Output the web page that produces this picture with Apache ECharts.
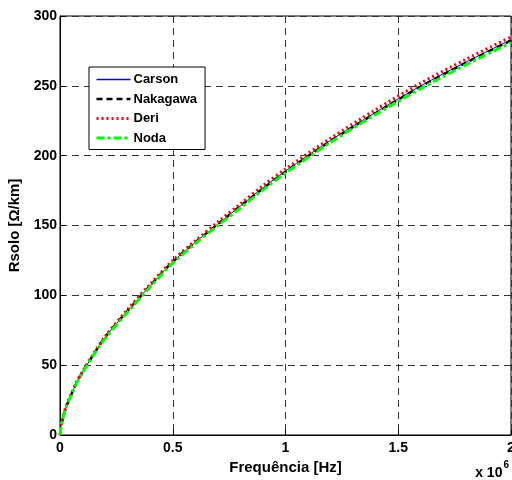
<!DOCTYPE html>
<html>
<head>
<meta charset="utf-8">
<script src="https://cdn.jsdelivr.net/npm/echarts@6/dist/echarts.min.js"></script>
<style>
  html, body { margin: 0; padding: 0; background: #fff; }
  #chart { width: 512px; height: 480px; }
</style>
</head>
<body>
<div id="chart"></div>
<script>
// Frequency samples in Hz
var freq = [0, 5e3, 1e4, 2.5e4, 5e4, 7.5e4, 1e5, 1.5e5, 2e5, 3e5, 4e5, 5e5, 6e5, 7e5, 8e5, 9e5, 1e6, 1.2e6, 1.4e6, 1.6e6, 1.8e6, 2e6];
// Soil resistance (ohm/km) by model
var carson   = [0, 7, 10, 19, 29, 38, 45, 58, 70, 89, 107, 124, 138, 151, 164, 177, 189, 211, 231, 250, 267, 283];
var nakagawa = [0, 7, 10, 19, 29, 38, 45, 58, 70, 89, 107, 124, 138, 151, 164, 176.5, 188.5, 210.5, 230.5, 249.5, 266.5, 282.5];
var deri     = [0, 7, 10, 19.5, 29.5, 38.5, 45.5, 58.5, 70.5, 90, 108, 125, 139, 152.5, 165.5, 178.5, 190.5, 212.5, 233, 252, 269, 285];
var noda     = [0, 7, 10, 19, 28.5, 37.5, 44.5, 57.5, 69, 88, 106, 123, 137, 150, 162.5, 175.5, 187.5, 209.5, 229.5, 248, 265, 281];
var seriesNames = ['Carson', 'Nakagawa', 'Deri', 'Noda'];

function pairs(ys) {
  return freq.map(function (f, i) { return [f, ys[i]]; });
}

var FONT = "'Liberation Sans', Arial, sans-serif";
var chart = echarts.init(document.getElementById('chart'), null, { renderer: 'canvas' });

var gridLine = { show: true, lineStyle: { color: '#333', type: [7, 5], width: 1 } };

// Line styles shared by each curve and its legend sample
var styles = {
  Carson:   { color: '#0000ff', width: 1,   type: 'solid' },
  Nakagawa: { color: '#000000', width: 2.5, type: [6, 4] },
  Deri:     { color: '#ff0000', width: 3,   type: [2, 3] },
  Noda:     { color: '#00ff00', width: 3,   type: [8, 3, 3, 3] }
};
var seriesData = { Carson: carson, Nakagawa: nakagawa, Deri: deri, Noda: noda };

chart.setOption({
  animation: false,
  backgroundColor: '#fff',
  grid: {
    left: 60, right: 1, top: 16, bottom: 45,
    outerBoundsMode: 'none', containLabel: false,
    show: true, borderColor: '#000', borderWidth: 1, backgroundColor: 'transparent'
  },
  legend: {
    data: seriesNames.map(function (n) {
      return { name: n, lineStyle: { width: Math.max(styles[n].width, 1.3), type: styles[n].type, color: styles[n].color } };
    }),
    orient: 'vertical',
    left: 89, top: 67,
    itemWidth: 34, itemHeight: 13, itemGap: 6.5,
    backgroundColor: '#fff',
    borderColor: '#000', borderWidth: 1,
    padding: [6, 8, 5, 6],
    borderRadius: 0,
    itemStyle: { opacity: 0 },
    textStyle: { fontFamily: FONT, fontWeight: 'bold', fontSize: 13, color: '#000', padding: [0, 0, 0, -2] }
  },
  xAxis: {
    type: 'value', min: 0, max: 2e6, interval: 5e5,
    name: 'Frequência [Hz]', nameLocation: 'middle', nameGap: 22,
    nameTextStyle: { fontFamily: FONT, fontWeight: 'bold', fontSize: 15, color: '#000' },
    axisLine: { show: true, onZero: false, lineStyle: { color: '#000', width: 1 } },
    axisTick: { show: true, inside: true, length: 5, lineStyle: { color: '#000' } },
    axisLabel: {
      margin: 6, fontFamily: FONT, fontWeight: 'bold', fontSize: 14, color: '#000',
      formatter: function (v) { return String(v / 1e6); }
    },
    splitLine: gridLine
  },
  yAxis: {
    type: 'value', min: 0, max: 300, interval: 50,
    name: 'Rsolo [Ω/km]', nameLocation: 'middle', nameGap: 31,
    nameTextStyle: { fontFamily: FONT, fontWeight: 'bold', fontSize: 15, color: '#000' },
    axisLine: { show: true, lineStyle: { color: '#000', width: 1 } },
    axisTick: { show: true, inside: true, length: 5, lineStyle: { color: '#000' } },
    axisLabel: { margin: 3, fontFamily: FONT, fontWeight: 'bold', fontSize: 14, color: '#000' },
    splitLine: gridLine
  },
  graphic: [{
    type: 'text', right: 3, top: 460,
    style: {
      text: '{b|x 10}{s|6}',
      rich: {
        b: { fontFamily: FONT, fontWeight: 'bold', fontSize: 14, fill: '#000', padding: [6, 1, 0, 0] },
        s: { fontFamily: FONT, fontWeight: 'bold', fontSize: 10, fill: '#000', verticalAlign: 'top' }
      }
    }
  }],
  series: seriesNames.map(function (n) {
    return {
      name: n, type: 'line', data: pairs(seriesData[n]),
      showSymbol: false, symbol: 'none', smooth: 0.3,
      lineStyle: styles[n], itemStyle: { color: styles[n].color }
    };
  })
});
</script>
</body>
</html>
